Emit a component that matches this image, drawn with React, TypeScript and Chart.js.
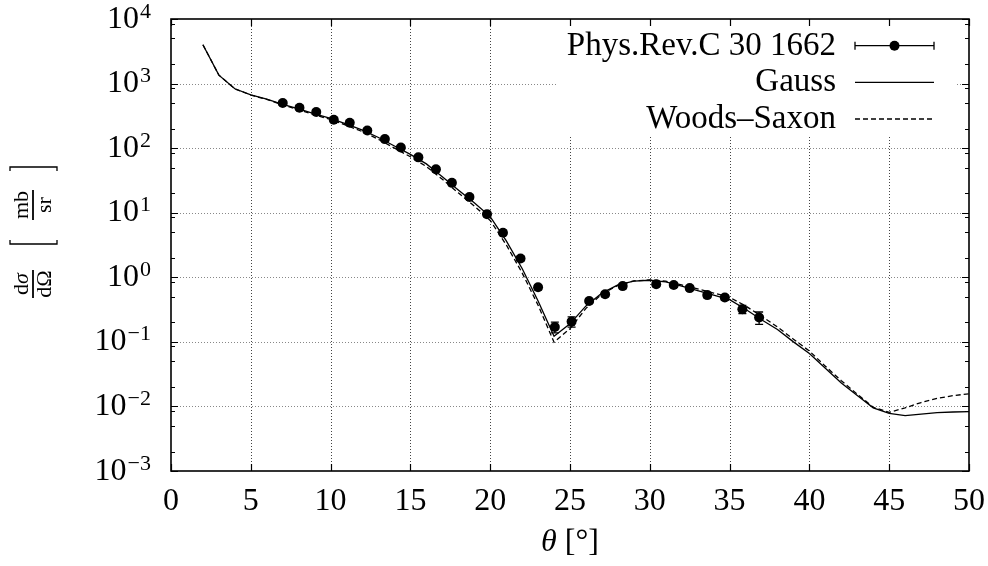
import { useEffect, useRef } from "react";
import { Chart, registerables } from "chart.js";

Chart.register(...registerables);

// Measured elastic cross section (Phys.Rev.C 30 1662): angle [deg], dσ/dΩ [mb/sr], uncertainty
const dataAngles = [
  7.0, 8.05, 9.1, 10.2, 11.2, 12.3, 13.4, 14.4, 15.5, 16.6, 17.6, 18.7, 19.8, 20.8,
  21.9, 23.0, 24.05, 25.1, 26.2, 27.2, 28.3, 30.4, 31.5, 32.5, 33.6, 34.7, 35.8, 36.85,
];
const dataValues = [
  500, 423, 362, 275, 247, 188, 138, 102, 72, 47, 29, 17.5, 9.5, 4.9,
  1.96, 0.7, 0.17, 0.206, 0.43, 0.547, 0.73, 0.78, 0.76, 0.68, 0.53, 0.485, 0.32, 0.238,
];
const dataErrors = [
  40, 34, 29, 22, 20, 15, 11, 8, 6, 4, 2.3, 1.4, 0.8, 0.4,
  0.16, 0.06, 0.032, 0.037, 0.035, 0.045, 0.06, 0.06, 0.06, 0.055, 0.045, 0.045, 0.047, 0.052,
];

// Calculated curves, one value per degree from 2° to 50°
const curveAngles = [
  2, 3, 4, 5, 6, 7, 8, 9, 10, 11, 12, 13, 14, 15, 16, 17, 18, 19, 20, 21, 22, 23, 24, 25,
  26, 27, 28, 29, 30, 31, 32, 33, 34, 35, 36, 37, 38, 39, 40, 41, 42, 43, 44, 45, 46, 47,
  48, 49, 50,
];
const gaussValues = [
  4000, 1350, 830, 670, 575, 475, 405, 340, 290, 236, 190, 146, 108, 80, 57, 36, 22.5, 14.3,
  8.7, 3.7, 1.37, 0.43, 0.122, 0.19, 0.36, 0.57, 0.76, 0.87, 0.9, 0.85, 0.73, 0.62, 0.53,
  0.45, 0.32, 0.22, 0.155, 0.1, 0.066, 0.039, 0.023, 0.0148, 0.0095, 0.0078, 0.0072, 0.0076,
  0.008, 0.0082, 0.0083,
];
const woodsSaxonValues = [
  4000, 1350, 830, 665, 568, 465, 393, 328, 278, 225, 180, 137, 100, 73.5, 52, 33, 20.3,
  12.7, 7.6, 3.2, 1.17, 0.37, 0.099, 0.16, 0.33, 0.55, 0.75, 0.88, 0.91, 0.87, 0.76, 0.66,
  0.57, 0.49, 0.36, 0.25, 0.17, 0.11, 0.072, 0.042, 0.025, 0.0155, 0.0097, 0.0081, 0.0095,
  0.0115, 0.0133, 0.0147, 0.0157,
];

const xTickValues = [0, 5, 10, 15, 20, 25, 30, 35, 40, 45, 50];
const yDecades = [-3, -2, -1, 0, 1, 2, 3, 4];
const yMinorFactors = [2, 5, 8.5];
const legendLabels = ["Phys.Rev.C 30 1662", "Gauss", "Woods\u2013Saxon"];

const FONT = '"Liberation Serif", "Times New Roman", serif';

function supDigits(e: number) {
  return e < 0 ? "\u2212" + String(-e) : String(e);
}

const plotDecor = {
  id: "plotDecor",
  beforeDatasetsDraw(chart: any) {
    const { ctx, chartArea: a, scales } = chart;
    const xs = scales.x;
    const ys = scales.y;
    ctx.save();
    ctx.lineWidth = 1;
    ctx.setLineDash([1, 2]);
    // vertical grid
    ctx.strokeStyle = "#444";
    for (const v of xTickValues.slice(1, -1)) {
      const px = Math.round(xs.getPixelForValue(v)) + 0.5;
      ctx.beginPath();
      ctx.moveTo(px, a.bottom);
      ctx.lineTo(px, a.top);
      ctx.stroke();
    }
    // horizontal grid
    ctx.strokeStyle = "#888";
    for (const e of yDecades.slice(1, -1)) {
      const py = Math.round(ys.getPixelForValue(Math.pow(10, e))) + 0.5;
      ctx.beginPath();
      ctx.moveTo(a.left, py);
      ctx.lineTo(a.right, py);
      ctx.stroke();
    }
    ctx.setLineDash([]);
    // opaque key box
    ctx.fillStyle = "#fff";
    ctx.fillRect(a.left + 386, a.top, a.width - 400, 118);
    ctx.restore();
  },
  afterDatasetsDraw(chart: any) {
    const { ctx, scales } = chart;
    const xs = scales.x;
    const ys = scales.y;
    ctx.save();
    ctx.strokeStyle = "#000";
    ctx.lineWidth = 1.3;
    dataAngles.forEach((t, i) => {
      const px = xs.getPixelForValue(t);
      const lo = ys.getPixelForValue(dataValues[i] - dataErrors[i]);
      const hi = ys.getPixelForValue(dataValues[i] + dataErrors[i]);
      ctx.beginPath();
      ctx.moveTo(px, lo);
      ctx.lineTo(px, hi);
      ctx.moveTo(px - 4, lo);
      ctx.lineTo(px + 4, lo);
      ctx.moveTo(px - 4, hi);
      ctx.lineTo(px + 4, hi);
      ctx.stroke();
    });
    ctx.restore();
  },
  afterDraw(chart: any) {
    const { ctx, chartArea: a, scales } = chart;
    const xs = scales.x;
    const ys = scales.y;
    ctx.save();
    ctx.strokeStyle = "#000";
    ctx.fillStyle = "#000";

    // ticks (mirrored on all sides)
    ctx.lineWidth = 1.2;
    ctx.beginPath();
    for (const v of xTickValues) {
      const px = Math.round(xs.getPixelForValue(v)) + 0.5;
      ctx.moveTo(px, a.bottom);
      ctx.lineTo(px, a.bottom - 7);
      ctx.moveTo(px, a.top);
      ctx.lineTo(px, a.top + 7);
    }
    for (const e of yDecades) {
      const py = Math.round(ys.getPixelForValue(Math.pow(10, e))) + 0.5;
      ctx.moveTo(a.left, py);
      ctx.lineTo(a.left + 7, py);
      ctx.moveTo(a.right, py);
      ctx.lineTo(a.right - 7, py);
      if (e < yDecades[yDecades.length - 1]) {
        for (const m of yMinorFactors) {
          const pm = Math.round(ys.getPixelForValue(m * Math.pow(10, e))) + 0.5;
          ctx.moveTo(a.left, pm);
          ctx.lineTo(a.left + 4, pm);
          ctx.moveTo(a.right, pm);
          ctx.lineTo(a.right - 4, pm);
        }
      }
    }
    ctx.stroke();

    // frame
    ctx.lineWidth = 1.6;
    ctx.strokeRect(a.left, a.top, a.right - a.left, a.bottom - a.top);

    // x tick labels
    ctx.font = `32px ${FONT}`;
    ctx.textAlign = "center";
    ctx.textBaseline = "alphabetic";
    for (const v of xTickValues) {
      ctx.fillText(String(v), xs.getPixelForValue(v), a.bottom + 39);
    }

    // y tick labels 10^n
    const labelRight = a.left - 20;
    for (const e of yDecades) {
      const py = ys.getPixelForValue(Math.pow(10, e));
      const sup = supDigits(e);
      ctx.font = `22px ${FONT}`;
      const supW = ctx.measureText(sup).width;
      ctx.textAlign = "right";
      ctx.fillText(sup, labelRight, py + 8.5 - 10);
      ctx.font = `32px ${FONT}`;
      ctx.fillText("10", labelRight - supW - 1, py + 8.5);
    }

    // x axis title: θ [°]
    const cx = (a.left + a.right) / 2;
    ctx.textAlign = "left";
    ctx.font = `italic 32px ${FONT}`;
    const thW = ctx.measureText("\u03b8").width;
    ctx.font = `32px ${FONT}`;
    const restW = ctx.measureText(" [\u00b0]").width;
    const startX = cx - (thW + restW) / 2;
    ctx.font = `italic 32px ${FONT}`;
    ctx.fillText("\u03b8", startX, 551);
    ctx.font = `32px ${FONT}`;
    ctx.fillText(" [\u00b0]", startX + thW, 551);

    // y axis title: dσ/dΩ [mb/sr], rotated
    ctx.save();
    ctx.translate(33, 284);
    ctx.rotate(-Math.PI / 2);
    const frac = (x: number, num: string[], den: string[], barHalf: number) => {
      ctx.lineWidth = 1.8;
      ctx.beginPath();
      ctx.moveTo(x - barHalf, 0);
      ctx.lineTo(x + barHalf, 0);
      ctx.stroke();
      const draw = (parts: string[], base: number) => {
        let w = 0;
        parts.forEach((p, i) => {
          ctx.font = `${i === 1 && parts === num && p === "\u03c3" ? "italic " : ""}22px ${FONT}`;
          w += ctx.measureText(p).width;
        });
        let px = x - w / 2;
        parts.forEach((p, i) => {
          ctx.font = `${i === 1 && parts === num && p === "\u03c3" ? "italic " : ""}22px ${FONT}`;
          ctx.textAlign = "left";
          ctx.fillText(p, px, base);
          px += ctx.measureText(p).width;
        });
      };
      draw(num, -5);
      draw(den, 18);
    };
    frac(0, ["d", "\u03c3"], ["d", "\u03a9"], 14);
    frac(79, ["mb"], ["sr"], 15);
    // brackets
    ctx.lineWidth = 1.3;
    ctx.beginPath();
    ctx.moveTo(44, -23);
    ctx.lineTo(40, -23);
    ctx.lineTo(40, 24);
    ctx.lineTo(44, 24);
    ctx.moveTo(113, -23);
    ctx.lineTo(117, -23);
    ctx.lineTo(117, 24);
    ctx.lineTo(113, 24);
    ctx.stroke();
    ctx.restore();

    // key
    const textRight = 836;
    const s0 = 855;
    const s1 = 934;
    const rows = [45.7, 82.3, 119];
    ctx.font = `33px ${FONT}`;
    ctx.textAlign = "right";
    legendLabels.forEach((lab, i) => {
      ctx.fillText(lab, textRight, rows[i] + 9);
    });
    ctx.lineWidth = 1.3;
    ctx.beginPath();
    ctx.moveTo(s0, rows[0]);
    ctx.lineTo(s1, rows[0]);
    ctx.moveTo(s0, rows[0] - 4);
    ctx.lineTo(s0, rows[0] + 4);
    ctx.moveTo(s1, rows[0] - 4);
    ctx.lineTo(s1, rows[0] + 4);
    ctx.stroke();
    ctx.beginPath();
    ctx.arc((s0 + s1) / 2, rows[0], 5, 0, Math.PI * 2);
    ctx.fill();
    ctx.beginPath();
    ctx.moveTo(s0, rows[1]);
    ctx.lineTo(s1, rows[1]);
    ctx.stroke();
    ctx.setLineDash([5, 3]);
    ctx.beginPath();
    ctx.moveTo(s0, rows[2]);
    ctx.lineTo(s1, rows[2]);
    ctx.stroke();
    ctx.setLineDash([]);

    ctx.restore();
  },
};

export default function App() {
  const canvasRef = useRef<HTMLCanvasElement | null>(null);

  useEffect(() => {
    const canvas = canvasRef.current;
    if (!canvas) return;
    const chart = new Chart(canvas, {
      type: "scatter",
      data: {
        datasets: [
          {
            label: legendLabels[0],
            data: dataAngles.map((x, i) => ({ x, y: dataValues[i] })),
            showLine: false,
            pointRadius: 5,
            pointBackgroundColor: "#000",
            pointBorderColor: "#000",
            pointBorderWidth: 0,
          },
          {
            label: legendLabels[1],
            data: curveAngles.map((x, i) => ({ x, y: gaussValues[i] })),
            showLine: true,
            pointRadius: 0,
            borderColor: "#000",
            borderWidth: 1.3,
            tension: 0,
          },
          {
            label: legendLabels[2],
            data: curveAngles.map((x, i) => ({ x, y: woodsSaxonValues[i] })),
            showLine: true,
            pointRadius: 0,
            borderColor: "#000",
            borderWidth: 1.3,
            borderDash: [5, 3],
            tension: 0,
          },
        ],
      },
      options: {
        animation: false,
        responsive: false,
        events: [],
        layout: { padding: { left: 171, right: 19, top: 19, bottom: 95 } },
        plugins: { legend: { display: false }, tooltip: { enabled: false } },
        scales: {
          x: {
            type: "linear",
            min: 0,
            max: 50,
            ticks: { display: false },
            grid: { display: false, drawTicks: false },
            border: { display: false },
          },
          y: {
            type: "logarithmic",
            min: 1e-3,
            max: 1e4,
            ticks: { display: false },
            grid: { display: false, drawTicks: false },
            border: { display: false },
          },
        },
      },
      plugins: [plotDecor],
    });
    return () => chart.destroy();
  }, []);

  return (
    <div style={{ position: "fixed", left: 0, top: 0, width: 988, height: 566, background: "#fff" }}>
      <canvas ref={canvasRef} width={988} height={566} style={{ display: "block" }} />
    </div>
  );
}
